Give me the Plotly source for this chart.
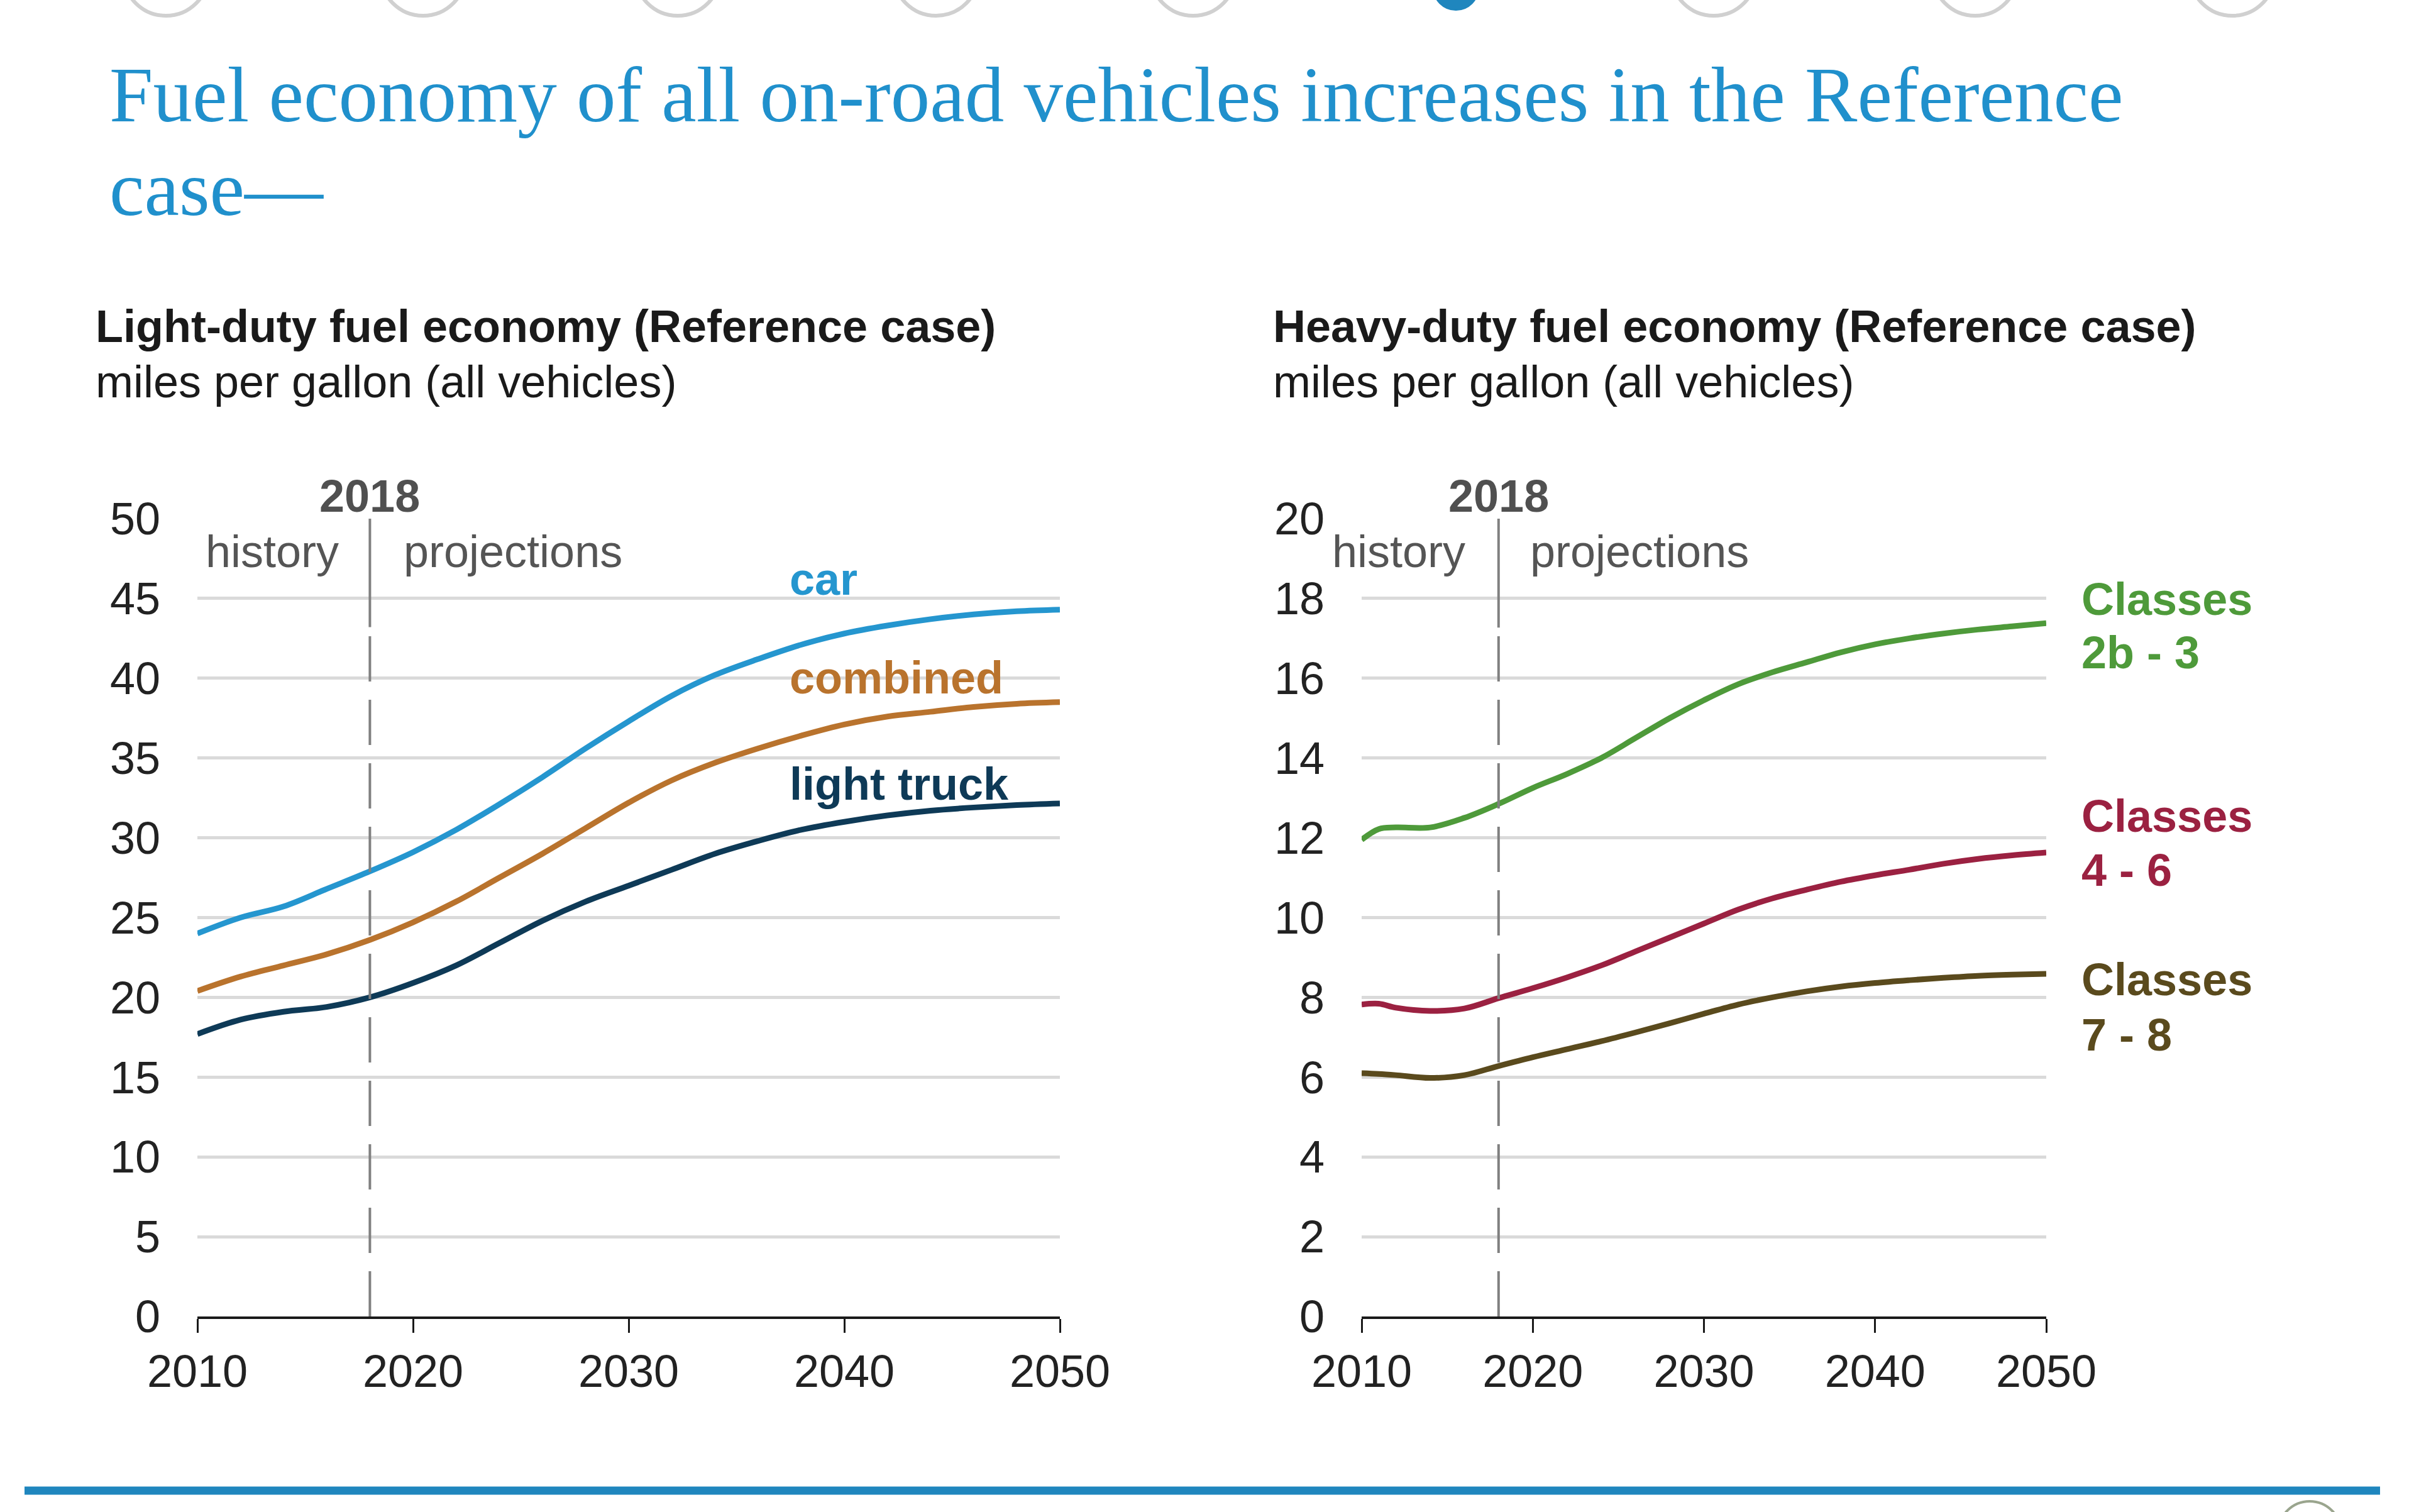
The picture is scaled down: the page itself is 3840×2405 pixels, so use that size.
import plotly.graph_objects as go

W, H = 3840, 2405
ML, MR, MT, MB = 80, 80, 40, 40

# ---------------- data ----------------
ld_years = [2010, 2012, 2014, 2016, 2018, 2020, 2022, 2024, 2026, 2028, 2030,
            2032, 2034, 2036, 2038, 2040, 2042, 2044, 2046, 2048, 2050]
car = [24.0, 25.0, 25.7, 26.8, 27.9, 29.1, 30.5, 32.1, 33.8, 35.6, 37.3,
       38.9, 40.2, 41.2, 42.1, 42.8, 43.3, 43.7, 44.0, 44.2, 44.3]
combined = [20.4, 21.3, 22.0, 22.7, 23.6, 24.7, 26.0, 27.5, 29.0, 30.6, 32.2,
            33.6, 34.7, 35.6, 36.4, 37.1, 37.6, 37.9, 38.2, 38.4, 38.5]
light_truck = [17.7, 18.6, 19.1, 19.4, 20.0, 20.9, 22.0, 23.4, 24.8, 26.0, 27.0,
               28.0, 29.0, 29.8, 30.5, 31.0, 31.4, 31.7, 31.9, 32.05, 32.15]

hd_years = [2010, 2011, 2012, 2014, 2016, 2018, 2020, 2022, 2024, 2026, 2028, 2030,
            2032, 2034, 2036, 2038, 2040, 2042, 2044, 2046, 2048, 2050]
classes_2b3 = [11.95, 12.22, 12.26, 12.26, 12.5, 12.85, 13.25, 13.6, 14.0, 14.5, 15.0, 15.45,
               15.85, 16.15, 16.4, 16.65, 16.85, 17.0, 17.12, 17.22, 17.3, 17.38]
classes_46 = [7.82, 7.84, 7.74, 7.66, 7.72, 7.98, 8.23, 8.5, 8.8, 9.15, 9.5, 9.85,
              10.2, 10.48, 10.7, 10.9, 11.06, 11.2, 11.35, 11.47, 11.56, 11.63]
classes_78 = [6.1, 6.08, 6.05, 5.98, 6.05, 6.28, 6.5, 6.7, 6.9, 7.12, 7.35, 7.59,
              7.82, 8.0, 8.15, 8.27, 8.36, 8.43, 8.49, 8.54, 8.57, 8.59]

x_ticks = [2010, 2020, 2030, 2040, 2050]
ld_yticks = [0, 5, 10, 15, 20, 25, 30, 35, 40, 45, 50]
hd_yticks = [0, 2, 4, 6, 8, 10, 12, 14, 16, 18, 20]

ld_series = [("car", car, "#2596cf"), ("combined", combined, "#b9732d"), ("light truck", light_truck, "#0e3a57")]
hd_series = [("Classes 2b - 3", classes_2b3, "#4e9a3a"), ("Classes 4 - 6", classes_46, "#9b2141"),
             ("Classes 7 - 8", classes_78, "#5a4a1d")]

TITLE_1 = "Fuel economy of all on-road vehicles increases in the Reference"
TITLE_2 = "case—"

# ---------------- helpers (page pixel -> paper fraction) ----------------
PW, PH = W - ML - MR, H - MT - MB

def px(x):
    return (x - ML) / PW

def py(y):
    return 1 - (y - MT) / PH

SANS = "Liberation Sans, Arial, sans-serif"
SERIF = "Liberation Serif, Times New Roman, serif"
FS = 72

fig = go.Figure()

for name, vals, col in ld_series:
    fig.add_trace(go.Scatter(x=ld_years, y=vals, mode="lines", name=name,
                             line=dict(color=col, width=9, shape="spline", smoothing=1.0),
                             xaxis="x", yaxis="y", showlegend=False, hoverinfo="skip"))
for name, vals, col in hd_series:
    fig.add_trace(go.Scatter(x=hd_years, y=vals, mode="lines", name=name,
                             line=dict(color=col, width=9, shape="spline", smoothing=1.0),
                             xaxis="x2", yaxis="y2", showlegend=False, hoverinfo="skip"))

xdom1 = [px(314), px(1686)]
xdom2 = [px(2166), px(3255)]
ydom = [py(2094), py(825)]

def xaxis(dom, anchor):
    return dict(domain=dom, anchor=anchor, range=[2010, 2050], tickvals=x_ticks,
                ticktext=[str(v) for v in x_ticks], showgrid=False, zeroline=False,
                showline=True, linecolor="#1a1a1a", linewidth=4, ticks="outside",
                ticklen=22, tickwidth=3, tickcolor="#1a1a1a", automargin=False,
                tickfont=dict(family=SANS, size=FS, color="#222222"), ticklabelstandoff=0)

def yaxis(ticks, rng, anchor):
    return dict(domain=ydom, anchor=anchor, range=rng, tickvals=ticks,
                ticktext=[str(v) for v in ticks], showgrid=True, gridcolor="#dadada",
                gridwidth=5, zeroline=False, showline=False, ticks="", automargin=False,
                tickfont=dict(family=SANS, size=FS, color="#222222"), ticklabelstandoff=58)

shapes = []
# 2018 divider lines
for xr, yr, top, solid_from in [("x", "y", 50, 43.2), ("x2", "y2", 20, 17.27)]:
    shapes.append(dict(type="line", xref=xr, yref=yr, x0=2018, x1=2018, y0=0, y1=solid_from,
                       line=dict(color="#808080", width=4, dash="72px,29px"), layer="above"))
    shapes.append(dict(type="line", xref=xr, yref=yr, x0=2018, x1=2018, y0=solid_from, y1=top,
                       line=dict(color="#808080", width=4), layer="above"))

# decorative navigation circles at the top (cut off by page edge)
for cx in [264, 673, 1078, 1489, 1898, 2726, 3142, 3551]:
    shapes.append(dict(type="circle", xref="paper", yref="paper",
                       x0=px(cx - 68), x1=px(cx + 68), y0=py(25), y1=py(-111),
                       line=dict(color="#d0d0d0", width=6)))
shapes.append(dict(type="circle", xref="paper", yref="paper",
                   x0=px(2316 - 36), x1=px(2316 + 36), y0=py(16), y1=py(-56),
                   fillcolor="#1f86be", line=dict(color="#1f86be", width=2)))
# bottom rule
shapes.append(dict(type="line", xref="paper", yref="paper", x0=px(39), x1=px(3786),
                   y0=py(2371), y1=py(2371), line=dict(color="#1f86be", width=13)))
shapes.append(dict(type="circle", xref="paper", yref="paper",
                   x0=px(3674 - 50), x1=px(3674 + 50), y0=py(2488), y1=py(2388),
                   line=dict(color="#9aa58e", width=4)))

ann = []
def text(x, y, s, size=FS, color="#1a1a1a", anchor="left", family=SANS):
    ann.append(dict(xref="paper", yref="paper", x=px(x), y=py(y), text=s, showarrow=False,
                    xanchor=anchor, yanchor="middle", align=anchor if anchor != "center" else "center",
                    font=dict(family=family, size=size, color=color)))

# title
text(172, 151, TITLE_1, size=125, color="#2090cc", family=SERIF)
text(172, 300, TITLE_2, size=125, color="#2090cc", family=SERIF)

# panel subtitles
text(150, 519, "<b>Light-duty fuel economy (Reference case)</b>")
text(150, 607, "miles per gallon (all vehicles)")
text(2023, 519, "<b>Heavy-duty fuel economy (Reference case)</b>")
text(2023, 607, "miles per gallon (all vehicles)")

# history / projections
for x2018, hist_end, proj_start in [(588, 541, 640), (2384, 2333, 2432)]:
    text(x2018, 789, "<b>2018</b>", color="#505050", anchor="center")
    text(hist_end, 877, "history", color="#555555", anchor="right")
    text(proj_start, 877, "projections", color="#555555")

# series labels
text(1254, 921, "<b>car</b>", color=ld_series[0][2])
text(1254, 1078, "<b>combined</b>", color=ld_series[1][2])
text(1254, 1247, "<b>light truck</b>", color=ld_series[2][2])
for (name, vals, col), (y1, y2) in zip(hd_series, [(953, 1038), (1298, 1384), (1558, 1646)]):
    first, second = name.split(" ", 1)
    text(3309, y1, "<b>" + first + "</b>", color=col)
    text(3309, y2, "<b>" + second + "</b>", color=col)

fig.update_layout(
    width=W, height=H, autosize=False,
    margin=dict(l=ML, r=MR, t=MT, b=MB, pad=0, autoexpand=False),
    paper_bgcolor="white", plot_bgcolor="white",
    xaxis=xaxis(xdom1, "y"), yaxis=yaxis(ld_yticks, [0, 50], "x"),
    xaxis2=xaxis(xdom2, "y2"), yaxis2=yaxis(hd_yticks, [0, 20], "x2"),
    shapes=shapes, annotations=ann, showlegend=False,
)

fig.write_html("out.html", config={"displayModeBar": False},
               post_script="document.body.style.margin='0';document.body.style.overflow='hidden';")
